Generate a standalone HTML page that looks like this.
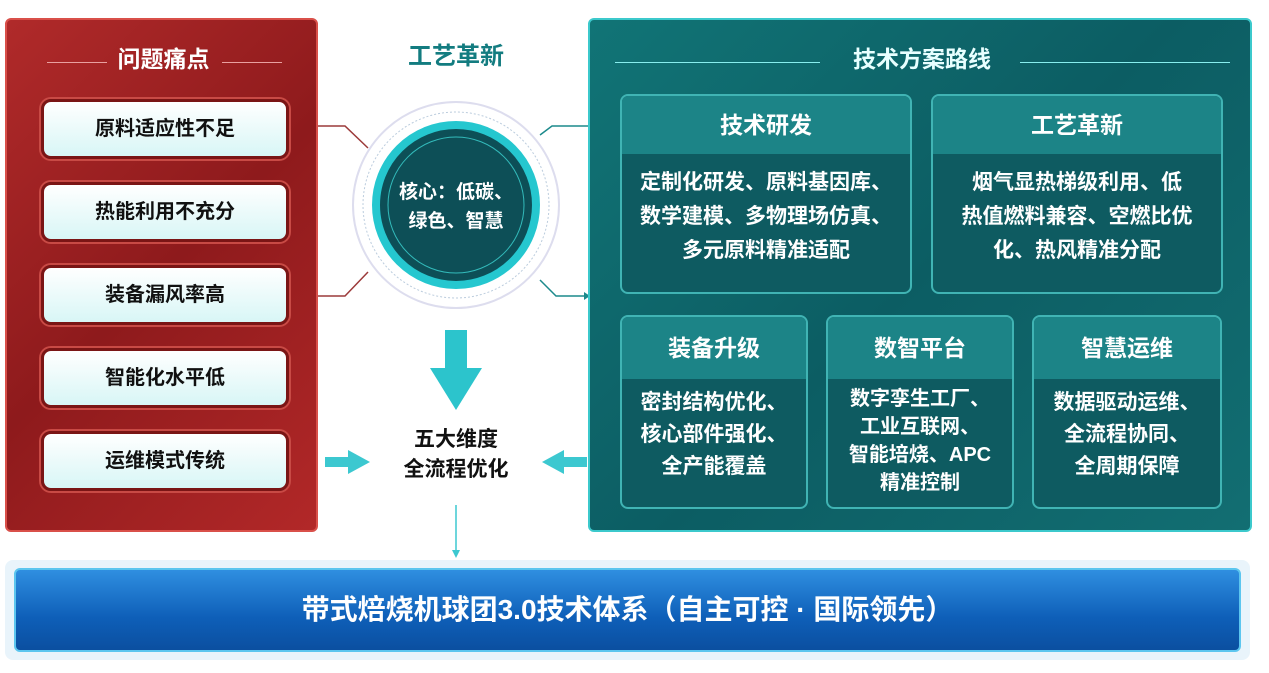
<!DOCTYPE html>
<html><head><meta charset="utf-8"><style>
*{margin:0;padding:0;box-sizing:border-box}
body{width:1269px;height:673px;background:#fff;position:relative;overflow:hidden;font-family:"Liberation Sans","Noto Sans CJK SC",sans-serif;font-weight:bold}
.a{position:absolute}
.red{left:5px;top:18px;width:313px;height:514px;background:linear-gradient(135deg,#b02a2a,#8e1a1c 50%,#b22828);border:2px solid #d9504a;border-radius:6px}
.rt{left:0;width:313px;top:20px;text-align:center;color:#fff;font-size:23px}
.item{left:34px;width:248px;height:60px;background:linear-gradient(180deg,#fff,#d8f6f6);border:3px solid #7a1515;border-radius:10px;box-shadow:0 0 0 2px #c84a45;text-align:center;line-height:54px;font-size:20px;color:#111}
.teal{left:588px;top:18px;width:664px;height:514px;background:linear-gradient(135deg,#117476,#0c5d63 50%,#126e72);border:2px solid #3cc9cc;border-radius:6px}
.tt{left:0;width:664px;top:20px;text-align:center;color:#e8ffff;font-size:23px}
.box{background:#0e5b61;border:2px solid #40b4b4;border-radius:8px;overflow:hidden;color:#fff;text-align:center}
.box .h{background:#1c8487;font-size:23px}
.box .b{font-size:21px;line-height:34px;padding-top:12px}
</style></head><body>
<div class="a red">
 <div class="a" style="left:40px;top:42px;width:60px;height:1px;background:#e9a0a0"></div>
 <div class="a" style="left:215px;top:42px;width:60px;height:1px;background:#e9a0a0"></div>
 <div class="a rt">问题痛点</div>
 <div class="a item" style="top:79px">原料适应性不足</div>
 <div class="a item" style="top:162px">热能利用不充分</div>
 <div class="a item" style="top:245px">装备漏风率高</div>
 <div class="a item" style="top:328px">智能化水平低</div>
 <div class="a item" style="top:411px">运维模式传统</div>
</div>
<svg class="a" style="left:0;top:0" width="1269" height="673">
 <polyline points="318,126 345,126 368,148" fill="none" stroke="#9c3a3a" stroke-width="1.5"/>
 <polyline points="318,296 345,296 368,272" fill="none" stroke="#9c3a3a" stroke-width="1.5"/>
 <polyline points="540,135 552,126 588,126" fill="none" stroke="#1c8a8c" stroke-width="1.5"/>
 <polyline points="540,280 556,296 584,296" fill="none" stroke="#1c8a8c" stroke-width="1.5"/>
 <path d="M584,292 L590,296 L584,300Z" fill="#1c8a8c"/>
 <circle cx="456" cy="205" r="103" fill="#fff" stroke="#dde" stroke-width="2"/>
 <circle cx="456" cy="205" r="93" fill="none" stroke="#bcd" stroke-width="1" stroke-dasharray="2 2"/>
 <circle cx="456" cy="205" r="80" fill="#0d4f57" stroke="#25c7cf" stroke-width="8"/>
 <circle cx="456" cy="205" r="68" fill="none" stroke="#3bb" stroke-width="1"/>
 <text x="456" y="198" text-anchor="middle" fill="#fff" font-size="19" font-weight="bold" font-family="Liberation Sans,Noto Sans CJK SC,sans-serif">核心：低碳、</text>
 <text x="456" y="227" text-anchor="middle" fill="#fff" font-size="19" font-weight="bold" font-family="Liberation Sans,Noto Sans CJK SC,sans-serif">绿色、智慧</text>
 <rect x="445" y="330" width="22" height="40" fill="#2cc4cc"/>
 <path d="M430,368 L482,368 L456,410Z" fill="#2cc4cc"/>
 <rect x="325" y="457" width="25" height="10" fill="#3cc8d0"/>
 <path d="M348,450 L370,462 L348,474Z" fill="#3cc8d0"/>
 <rect x="562" y="457" width="25" height="10" fill="#3cc8d0"/>
 <path d="M564,450 L542,462 L564,474Z" fill="#3cc8d0"/>
 <line x1="456" y1="505" x2="456" y2="552" stroke="#3cc8d0" stroke-width="1.5"/>
 <path d="M452,550 L460,550 L456,558Z" fill="#3cc8d0"/>
</svg>
<div class="a" style="left:380px;top:36px;width:152px;text-align:center;color:#137c80;font-size:24px">工艺革新</div>
<div class="a" style="left:370px;top:425px;width:172px;text-align:center;color:#111;font-size:21px;line-height:30px">五大维度<br>全流程优化</div>
<div class="a teal">
 <div class="a" style="left:25px;top:42px;width:205px;height:1px;background:#8ee"></div>
 <div class="a" style="left:430px;top:42px;width:210px;height:1px;background:#8ee"></div>
 <div class="a tt">技术方案路线</div>
 <div class="a box" style="left:30px;top:74px;width:292px;height:200px"><div class="h" style="height:58px;line-height:58px">技术研发</div><div class="b">定制化研发、原料基因库、<br>数学建模、多物理场仿真、<br>多元原料精准适配</div></div>
 <div class="a box" style="left:341px;top:74px;width:292px;height:200px"><div class="h" style="height:58px;line-height:58px">工艺革新</div><div class="b">烟气显热梯级利用、低<br>热值燃料兼容、空燃比优<br>化、热风精准分配</div></div>
 <div class="a box" style="left:30px;top:295px;width:188px;height:194px"><div class="h" style="height:62px;line-height:62px">装备升级</div><div class="b" style="line-height:32px;padding-top:8px">密封结构优化、<br>核心部件强化、<br>全产能覆盖</div></div>
 <div class="a box" style="left:236px;top:295px;width:188px;height:194px"><div class="h" style="height:62px;line-height:62px">数智平台</div><div class="b" style="line-height:28px;padding-top:6px;font-size:20px">数字孪生工厂、<br>工业互联网、<br>智能培烧、APC<br>精准控制</div></div>
 <div class="a box" style="left:442px;top:295px;width:190px;height:194px"><div class="h" style="height:62px;line-height:62px">智慧运维</div><div class="b" style="line-height:32px;padding-top:8px">数据驱动运维、<br>全流程协同、<br>全周期保障</div></div>
</div>
<div class="a" style="left:5px;top:560px;width:1245px;height:100px;background:#e9f4fb;border-radius:8px"></div>
<div class="a" style="left:14px;top:568px;width:1227px;height:84px;background:linear-gradient(180deg,#2f8fe0,#0e5fb8 60%,#0b4fa0);border:2px solid #5cc6ef;border-radius:6px;color:#fff;font-size:28px;text-align:center;line-height:80px">带式焙烧机球团3.0技术体系（自主可控 · 国际领先）</div>
</body></html>
